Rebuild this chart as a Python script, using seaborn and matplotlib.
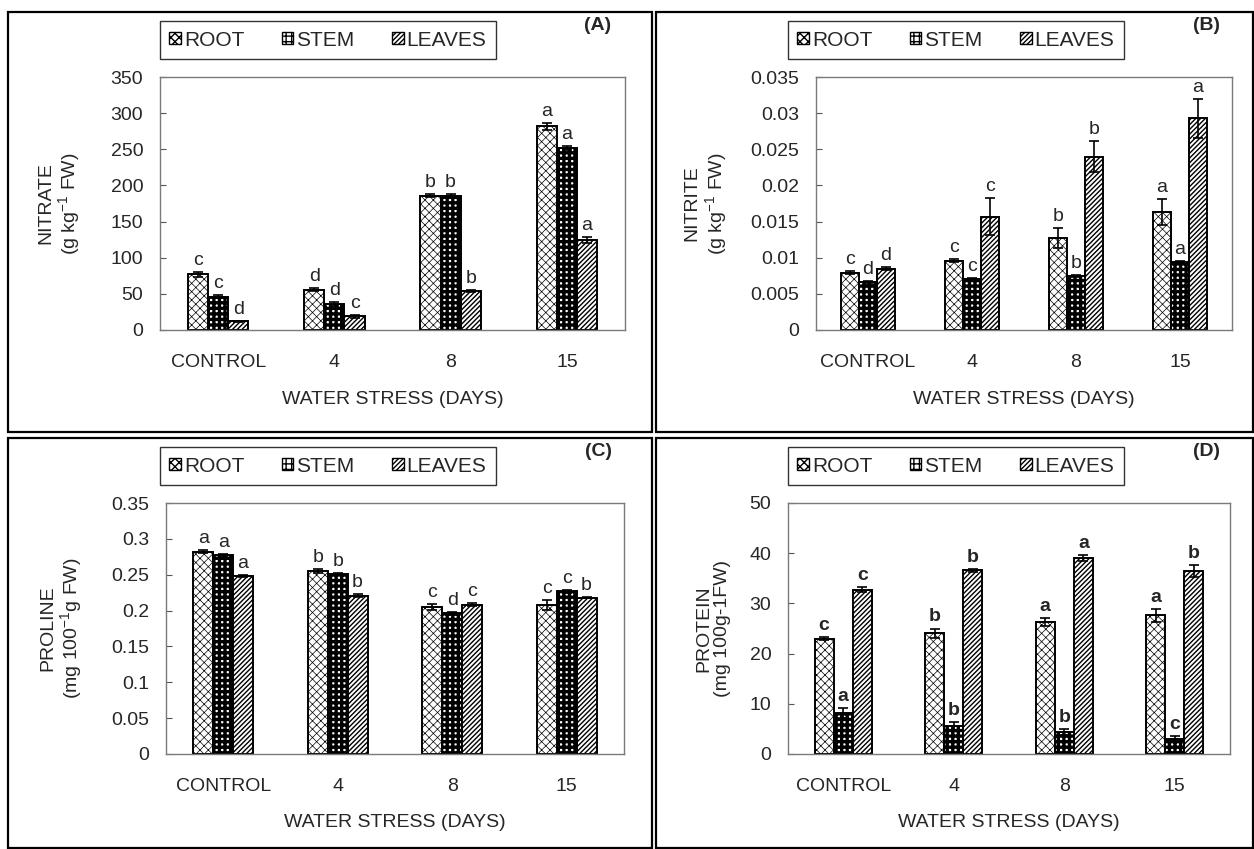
import numpy as np
import pandas as pd
import matplotlib
matplotlib.use("Agg")
import matplotlib.pyplot as plt
from matplotlib.patches import Patch, Rectangle
from matplotlib.ticker import FormatStrFormatter
import seaborn as sns

days = ["CONTROL", "4", "8", "15"]
tissues = ["ROOT", "STEM", "LEAVES"]

# (A) nitrate, g kg-1 FW
nitrate_root = [77, 56, 186, 282]
nitrate_stem = [46, 36, 185, 252]
nitrate_leaves = [12, 19, 54, 125]
nitrate_root_err = [3, 2, 2.5, 5]
nitrate_stem_err = [2, 3, 2.5, 3]
nitrate_leaves_err = [1, 2, 1.5, 4]
nitrate_letters = [["c", "d", "b", "a"], ["c", "d", "b", "a"], ["d", "c", "b", "a"]]
nitrate_ticks = [0, 50, 100, 150, 200, 250, 300, 350]

# (B) nitrite, g kg-1 FW
nitrite_root = [0.0079, 0.0096, 0.0127, 0.0163]
nitrite_stem = [0.0066, 0.0071, 0.0075, 0.0094]
nitrite_leaves = [0.0085, 0.0157, 0.0240, 0.0293]
nitrite_root_err = [0.0002, 0.0002, 0.0014, 0.0018]
nitrite_stem_err = [0.0002, 0.0001, 0.0001, 0.0002]
nitrite_leaves_err = [0.0002, 0.0025, 0.0022, 0.0027]
nitrite_letters = [["c", "c", "b", "a"], ["d", "c", "b", "a"], ["d", "c", "b", "a"]]
nitrite_ticks = [0, 0.005, 0.01, 0.015, 0.02, 0.025, 0.03, 0.035]

# (C) proline, mg 100-1 g FW
proline_root = [0.282, 0.255, 0.205, 0.208]
proline_stem = [0.277, 0.251, 0.196, 0.227]
proline_leaves = [0.248, 0.221, 0.208, 0.218]
proline_root_err = [0.002, 0.003, 0.004, 0.007]
proline_stem_err = [0.002, 0.001, 0.002, 0.002]
proline_leaves_err = [0.001, 0.002, 0.002, 0.001]
proline_letters = [["a", "b", "c", "c"], ["a", "b", "d", "c"], ["a", "b", "c", "b"]]
proline_ticks = [0, 0.05, 0.1, 0.15, 0.2, 0.25, 0.3, 0.35]

# (D) protein, mg 100g-1 FW
protein_root = [23.0, 24.1, 26.3, 27.6]
protein_stem = [8.2, 5.5, 4.3, 2.9]
protein_leaves = [32.7, 36.6, 39.0, 36.4]
protein_root_err = [0.3, 0.9, 0.8, 1.3]
protein_stem_err = [1.0, 0.9, 0.6, 0.6]
protein_leaves_err = [0.5, 0.3, 0.6, 1.2]
protein_letters = [["c", "b", "a", "a"], ["a", "b", "b", "c"], ["c", "b", "a", "b"]]
protein_ticks = [0, 10, 20, 30, 40, 50]

hatches = {"ROOT": "xxxx", "STEM": "+++", "LEAVES": "///////"}
hatch_lw = {"ROOT": 0.5, "STEM": 2.4, "LEAVES": 1.0}

sns.set_style("white")
plt.rcParams["font.family"] = ["Liberation Sans", "DejaVu Sans"]
plt.rcParams["mathtext.fontset"] = "custom"
plt.rcParams["mathtext.rm"] = "Liberation Sans"
plt.rcParams["mathtext.default"] = "regular"
plt.rcParams["hatch.linewidth"] = 1.0

FS = 14


def style_hatch(patch, tissue):
    patch.set_hatch(hatches[tissue])
    if hasattr(patch, "set_hatch_linewidth"):
        patch.set_hatch_linewidth(hatch_lw[tissue])


def draw_panel(ax, vals, errs, letters, ticks, fmt, ylabel, ylab_x, bold=False):
    df = pd.DataFrame({
        "day": days * 3,
        "tissue": np.repeat(tissues, len(days)),
        "value": np.concatenate(vals),
    })
    sns.barplot(data=df, x="day", y="value", hue="tissue", order=days,
                hue_order=tissues, width=0.52, errorbar=None, ax=ax,
                palette=["white"] * 3, saturation=1, edgecolor="black",
                linewidth=1.4, legend=False)
    span = ticks[-1]
    for cont, tissue, v, e, lets in zip(ax.containers, tissues, vals, errs, letters):
        xs = []
        for bar in cont:
            style_hatch(bar, tissue)
            xs.append(bar.get_x() + bar.get_width() / 2)
        ax.errorbar(xs, v, yerr=e, fmt="none", ecolor="black",
                    elinewidth=1.2, capsize=3.5, capthick=1.2, zorder=5)
        for x, yv, ye, t in zip(xs, v, e, lets):
            ax.text(x, yv + ye + span * 0.012, t, ha="center", va="bottom",
                    fontsize=FS, fontweight="bold" if bold else "normal")

    ax.set_ylim(0, span)
    ax.set_yticks(ticks)
    ax.yaxis.set_major_formatter(FormatStrFormatter(fmt))
    ax.set_xlim(-0.5, len(days) - 0.5)
    ax.set_xticks(range(len(days)))
    ax.set_xticklabels(days)
    ax.set_xticks([0.5, 1.5, 2.5], minor=True)
    ax.tick_params(axis="x", which="major", length=0, pad=17, labelsize=FS)
    ax.tick_params(axis="x", which="minor", direction="in", length=4,
                   width=0.8, color="#555555")
    ax.tick_params(axis="y", direction="in", length=4, width=0.8,
                   color="#555555", pad=12, labelsize=FS, left=True)
    for sp in ax.spines.values():
        sp.set_visible(True)
        sp.set_color("#7a7a7a")
        sp.set_linewidth(1.0)
    ax.set_ylabel(ylabel, fontsize=FS, linespacing=1.1)
    ax.yaxis.set_label_coords(ylab_x, 0.5)
    ax.set_xlabel("WATER STRESS (DAYS)", fontsize=FS)
    ax.xaxis.set_label_coords(0.5, -0.24)
    ax.xaxis.label.set_va("top")


W, H = 1254, 849
fig = plt.figure(figsize=(W / 100, H / 100), dpi=100)


def px_axes(left, top, right, bottom):
    return fig.add_axes([left / W, 1 - bottom / H, (right - left) / W, (bottom - top) / H])


ax_a = px_axes(160, 77, 625, 330)
ax_b = px_axes(816, 77, 1232, 330)
ax_c = px_axes(166, 503, 624, 754)
ax_d = px_axes(788, 503, 1230, 754)

draw_panel(ax_a, [nitrate_root, nitrate_stem, nitrate_leaves],
           [nitrate_root_err, nitrate_stem_err, nitrate_leaves_err],
           nitrate_letters, nitrate_ticks, "%g",
           "NITRATE\n(g kg$^{-1}$ FW)", -0.168)
draw_panel(ax_b, [nitrite_root, nitrite_stem, nitrite_leaves],
           [nitrite_root_err, nitrite_stem_err, nitrite_leaves_err],
           nitrite_letters, nitrite_ticks, "%g",
           "NITRITE\n(g kg$^{-1}$ FW)", -0.21)
draw_panel(ax_c, [proline_root, proline_stem, proline_leaves],
           [proline_root_err, proline_stem_err, proline_leaves_err],
           proline_letters, proline_ticks, "%g",
           "PROLINE\n(mg 100$^{-1}$g FW)", -0.178)
draw_panel(ax_d, [protein_root, protein_stem, protein_leaves],
           [protein_root_err, protein_stem_err, protein_leaves_err],
           protein_letters, protein_ticks, "%g",
           "PROTEIN\n(mg 100g-1FW)", -0.13, bold=True)

# legends in boxes above each plot
handles = []
for t in tissues:
    h = Patch(facecolor="white", edgecolor="black", linewidth=1.0)
    style_hatch(h, t)
    handles.append(h)
for cx, cy in [(328, 40), (956, 40), (328, 466), (956, 466)]:
    leg = fig.legend(handles, tissues, loc="center", bbox_to_anchor=(cx / W, 1 - cy / H),
                     ncol=3, fontsize=15, frameon=True, fancybox=False,
                     edgecolor="#333333", framealpha=1, handlelength=0.55,
                     handleheight=0.55, handletextpad=0.15, columnspacing=1.8,
                     borderpad=0.45, borderaxespad=0)
    leg.get_frame().set_linewidth(1.0)

for lab, x, y in [("(A)", 598, 26), ("(B)", 1206, 26), ("(C)", 598, 452), ("(D)", 1206, 452)]:
    fig.text(x / W, 1 - y / H, lab, ha="center", va="center", fontsize=FS,
             fontweight="bold")

# panel frames
for x0, y0, x1, y1 in [(8, 12, 652, 432), (656, 12, 1253, 432),
                       (8, 438, 652, 848), (656, 438, 1253, 848)]:
    fig.add_artist(Rectangle((x0 / W, 1 - y1 / H), (x1 - x0) / W, (y1 - y0) / H,
                             transform=fig.transFigure, fill=False,
                             edgecolor="black", linewidth=1.6))

fig.savefig("out.png", dpi=100)
